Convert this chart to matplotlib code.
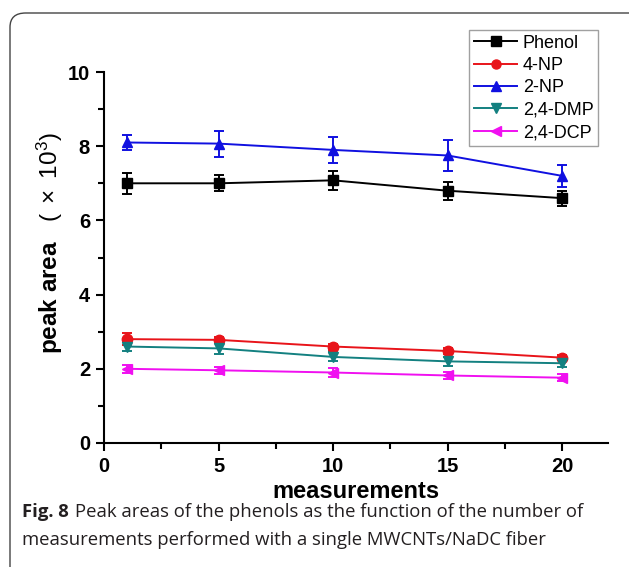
import matplotlib
matplotlib.use("Agg")
import matplotlib.pyplot as plt
from matplotlib.patches import FancyBboxPatch
from matplotlib.ticker import MultipleLocator

# ---- data ----
x_meas = [1, 5, 10, 15, 20]
phenol = [7.0, 7.0, 7.08, 6.8, 6.6]
phenol_err = [0.28, 0.22, 0.26, 0.24, 0.2]
np4 = [2.8, 2.78, 2.6, 2.48, 2.3]
np4_err = [0.17, 0.08, 0.08, 0.08, 0.06]
np2 = [8.1, 8.07, 7.9, 7.75, 7.2]
np2_err = [0.2, 0.35, 0.36, 0.42, 0.3]
dmp = [2.6, 2.55, 2.32, 2.2, 2.15]
dmp_err = [0.12, 0.14, 0.12, 0.12, 0.1]
dcp = [2.0, 1.96, 1.9, 1.82, 1.76]
dcp_err = [0.1, 0.1, 0.12, 0.1, 0.1]

series_names = ["Phenol", "4-NP", "2-NP", "2,4-DMP", "2,4-DCP"]
x_ticks = [0, 5, 10, 15, 20]
y_ticks = [0, 2, 4, 6, 8, 10]

caption_bold = "Fig. 8"
caption_line1 = "Peak areas of the phenols as the function of the number of"
caption_line2 = "measurements performed with a single MWCNTs/NaDC fiber"

plt.rcParams['font.family'] = ['Liberation Sans', 'DejaVu Sans']
plt.rcParams['mathtext.fontset'] = 'custom'
plt.rcParams['mathtext.rm'] = 'Liberation Sans'
plt.rcParams['mathtext.it'] = 'Liberation Sans'
plt.rcParams['mathtext.bf'] = 'Liberation Sans:bold'

fig = plt.figure(figsize=(6.29, 5.67), dpi=100)
W, H = 629, 567

# rounded frame
frame = FancyBboxPatch((10 / W, -0.1), 1.2, 1 - 13 / H + 0.1,
                       boxstyle="round,pad=0,rounding_size=0.025",
                       transform=fig.transFigure, fill=False,
                       edgecolor="#444444", linewidth=1.0, clip_on=False)
fig.patches.append(frame)

ax = fig.add_axes([104 / W, 1 - 443 / H, (608 - 104) / W, (443 - 72) / H])

colors = ["black", "#e8141a", "#1010e0", "#138080", "#f010f0"]
markers = ["s", "o", "^", "v", "<"]
data = [(phenol, phenol_err), (np4, np4_err), (np2, np2_err), (dmp, dmp_err), (dcp, dcp_err)]

handles = []
for (vals, errs), c, m, name in zip(data, colors, markers, series_names):
    ax.errorbar(x_meas, vals, yerr=errs, color=c, marker=m, markersize=7.5,
                linewidth=1.4, elinewidth=1.4, capsize=3.5, capthick=1.4,
                label=name, clip_on=False)
    h, = ax.plot([], [], color=c, marker=m, markersize=6.5, linewidth=1.4)
    handles.append(h)

ax.set_xlim(0, 22)
ax.set_ylim(0, 10)
ax.set_xticks(x_ticks)
ax.set_yticks(y_ticks)
ax.xaxis.set_minor_locator(MultipleLocator(2.5))
ax.yaxis.set_minor_locator(MultipleLocator(1))
ax.spines['top'].set_visible(False)
ax.spines['right'].set_visible(False)
for s in ['left', 'bottom']:
    ax.spines[s].set_linewidth(1.5)
ax.tick_params(axis='both', which='major', direction='out', length=6, width=1.5,
               labelsize=14.5, pad=4)
ax.tick_params(axis='both', which='minor', direction='out', length=4, width=1.5)
for lab in ax.get_xticklabels() + ax.get_yticklabels():
    lab.set_fontweight('bold')

ax.set_xlabel("measurements", fontsize=17, fontweight='bold', labelpad=3)
ax.set_ylabel(r"$\mathbf{peak\ area}\ \ \ (\ \times\ 10^{3})$", fontsize=17.5, va='center')
ax.yaxis.set_label_coords(-0.107, 0.539)

leg = fig.legend(handles=handles, labels=series_names, loc='upper right',
                 bbox_to_anchor=(598 / W, 1 - 30 / H), frameon=True, fancybox=False,
                 fontsize=13, handlelength=2.4, handletextpad=0.3, labelspacing=0.3,
                 borderpad=0.25, borderaxespad=0)
leg.get_frame().set_edgecolor("#888888")
leg.get_frame().set_linewidth(1.0)

# caption
cap_font = ['Open Sans', 'DejaVu Sans']
fig.text(22 / W, 1 - 512 / H, caption_bold, fontsize=13.3, fontweight='bold',
         family=cap_font, va='center', ha='left', color='#231f20')
fig.text(75 / W, 1 - 512 / H, caption_line1,
         fontsize=13.3, family=cap_font, va='center', ha='left', color='#231f20')
fig.text(22 / W, 1 - 540 / H, caption_line2,
         fontsize=13.3, family=cap_font, va='center', ha='left', color='#231f20')

fig.savefig("out.png", dpi=100)
